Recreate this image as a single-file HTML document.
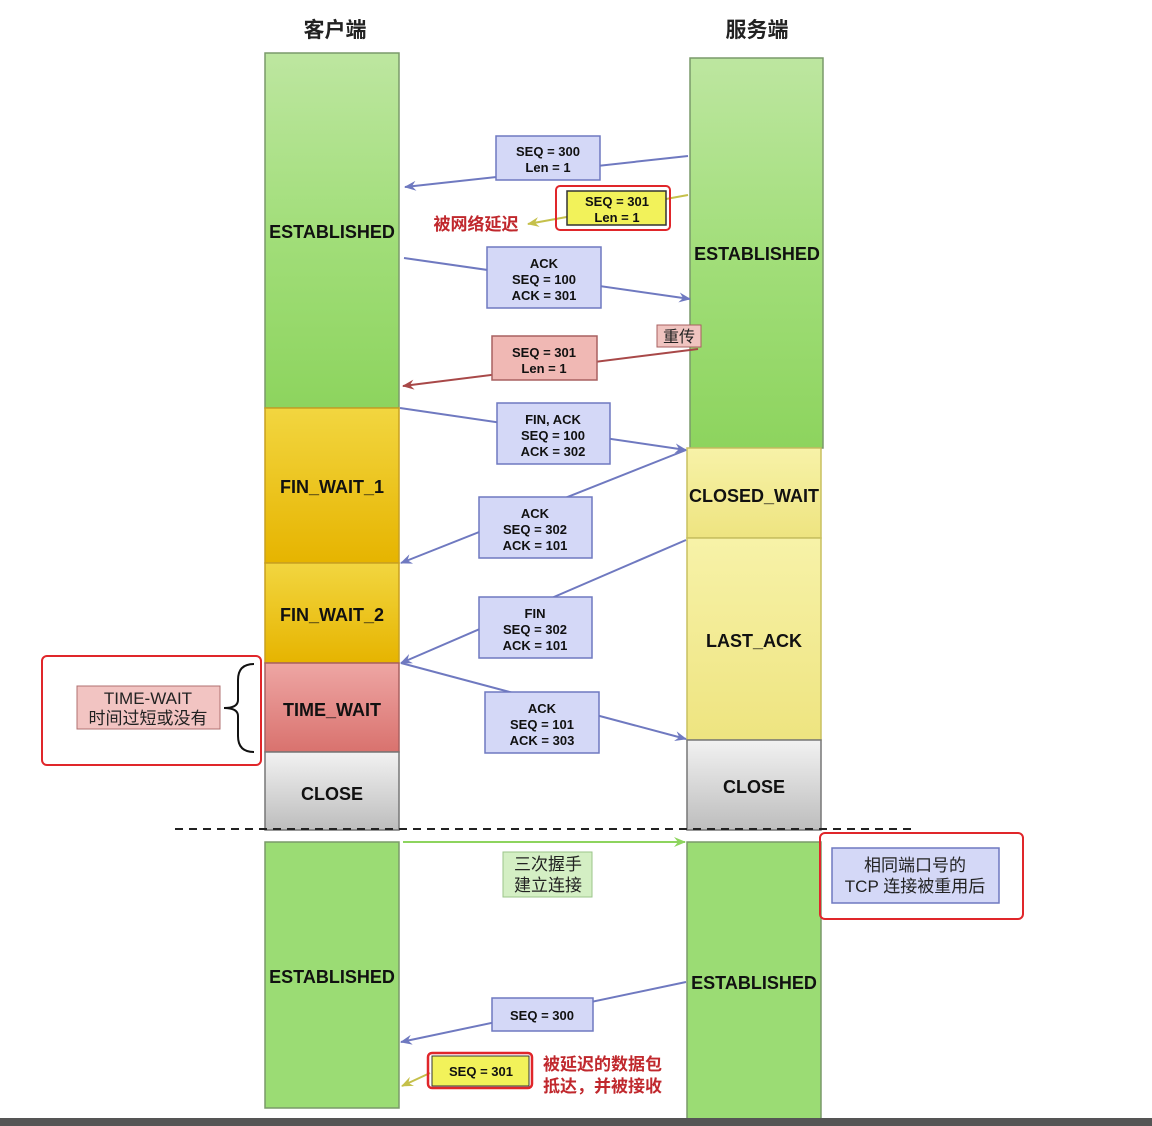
<!DOCTYPE html>
<html><head><meta charset="utf-8"><style>
html,body{margin:0;padding:0;background:#fff;width:1152px;height:1126px;overflow:hidden}
svg{display:block}
.st{font-family:"Liberation Sans","DejaVu Sans",sans-serif;font-weight:bold;font-size:18px;fill:#111}
.m{font-family:"Liberation Sans","DejaVu Sans",sans-serif;font-weight:bold;font-size:13px;fill:#111}
.cn{font-family:"Liberation Sans","Noto Sans CJK SC",sans-serif;font-size:17px;fill:#222}
.red{font-family:"Liberation Sans","Noto Sans CJK SC",sans-serif;font-size:17px;font-weight:bold;fill:#c0282d}
</style></head><body>
<svg width="1152" height="1126" viewBox="0 0 1152 1126" xmlns="http://www.w3.org/2000/svg">
<defs>
<linearGradient id="g" x1="0" y1="0" x2="0" y2="1"><stop offset="0" stop-color="#bde6a0"/><stop offset="0.5" stop-color="#a2de7a"/><stop offset="1" stop-color="#8dd45e"/></linearGradient>
<linearGradient id="o" x1="0" y1="0" x2="0" y2="1"><stop offset="0" stop-color="#f2d640"/><stop offset="1" stop-color="#e6b400"/></linearGradient>
<linearGradient id="r" x1="0" y1="0" x2="0" y2="1"><stop offset="0" stop-color="#eea6a4"/><stop offset="1" stop-color="#d9726e"/></linearGradient>
<linearGradient id="gr" x1="0" y1="0" x2="0" y2="1"><stop offset="0" stop-color="#f2f2f2"/><stop offset="1" stop-color="#bdbdbd"/></linearGradient>
<linearGradient id="y" x1="0" y1="0" x2="0" y2="1"><stop offset="0" stop-color="#f7f2a8"/><stop offset="1" stop-color="#eee480"/></linearGradient>
<marker id="ab" markerWidth="12" markerHeight="10" refX="11" refY="5" orient="auto" markerUnits="userSpaceOnUse"><path d="M0,0 L12,5 L0,10 L4,5 Z" fill="#6f79c0"/></marker>
<marker id="ar" markerWidth="12" markerHeight="10" refX="11" refY="5" orient="auto" markerUnits="userSpaceOnUse"><path d="M0,0 L12,5 L0,10 L4,5 Z" fill="#a84848"/></marker>
<marker id="ay" markerWidth="12" markerHeight="10" refX="11" refY="5" orient="auto" markerUnits="userSpaceOnUse"><path d="M0,0 L12,5 L0,10 L4,5 Z" fill="#c5c04a"/></marker>
<marker id="ag" markerWidth="12" markerHeight="10" refX="11" refY="5" orient="auto" markerUnits="userSpaceOnUse"><path d="M0,0 L12,5 L0,10 L4,5 Z" fill="#8dd45e"/></marker>
</defs>
<text x="335" y="37" class="cn" text-anchor="middle" style="font-size:21px;font-weight:bold">客户端</text>
<text x="757" y="37" class="cn" text-anchor="middle" style="font-size:21px;font-weight:bold">服务端</text>
<g stroke="#7a9a6a" stroke-width="1.5">
<rect x="265" y="53" width="134" height="355" fill="url(#g)"/>
<rect x="265" y="408" width="134" height="155" fill="url(#o)" stroke="#c8a020"/>
<rect x="265" y="563" width="134" height="100" fill="url(#o)" stroke="#c8a020"/>
<rect x="265" y="663" width="134" height="89" fill="url(#r)" stroke="#a86060"/>
<rect x="265" y="752" width="134" height="78" fill="url(#gr)" stroke="#777"/>
<rect x="690" y="58" width="133" height="390" fill="url(#g)"/>
<rect x="687" y="448" width="134" height="90" fill="url(#y)" stroke="#c8c060"/>
<rect x="687" y="538" width="134" height="202" fill="url(#y)" stroke="#c8c060"/>
<rect x="687" y="740" width="134" height="90" fill="url(#gr)" stroke="#777"/>
<rect x="265" y="842" width="134" height="266" fill="#9bdc74"/>
<rect x="687" y="842" width="134" height="280" fill="#9bdc74"/>
</g>
<text x="332" y="238" class="st" text-anchor="middle">ESTABLISHED</text>
<text x="757" y="260" class="st" text-anchor="middle">ESTABLISHED</text>
<text x="332" y="493" class="st" text-anchor="middle">FIN_WAIT_1</text>
<text x="332" y="621" class="st" text-anchor="middle">FIN_WAIT_2</text>
<text x="332" y="716" class="st" text-anchor="middle">TIME_WAIT</text>
<text x="332" y="800" class="st" text-anchor="middle">CLOSE</text>
<text x="754" y="502" class="st" text-anchor="middle">CLOSED_WAIT</text>
<text x="754" y="647" class="st" text-anchor="middle">LAST_ACK</text>
<text x="754" y="793" class="st" text-anchor="middle">CLOSE</text>
<text x="332" y="983" class="st" text-anchor="middle">ESTABLISHED</text>
<text x="754" y="989" class="st" text-anchor="middle">ESTABLISHED</text>
<line x1="175" y1="829" x2="915" y2="829" stroke="#222" stroke-width="2" stroke-dasharray="8,6"/>
<g stroke="#6f79c0" stroke-width="2" fill="none">
<line x1="688" y1="156" x2="405" y2="187" marker-end="url(#ab)"/>
<line x1="404" y1="258" x2="690" y2="299" marker-end="url(#ab)"/>
<line x1="400" y1="408" x2="686" y2="450" marker-end="url(#ab)"/>
<line x1="686" y1="450" x2="401" y2="563" marker-end="url(#ab)"/>
<line x1="686" y1="540" x2="401" y2="663" marker-end="url(#ab)"/>
<line x1="401" y1="663" x2="686" y2="739" marker-end="url(#ab)"/>
<line x1="686" y1="982" x2="401" y2="1042" marker-end="url(#ab)"/>
</g>
<line x1="698" y1="349" x2="403" y2="386" stroke="#a84848" stroke-width="2" marker-end="url(#ar)"/>
<line x1="688" y1="195" x2="528" y2="224" stroke="#c5c04a" stroke-width="2" marker-end="url(#ay)"/>
<line x1="430" y1="1073" x2="402" y2="1086" stroke="#c5c04a" stroke-width="2" marker-end="url(#ay)"/>
<line x1="403" y1="842" x2="685" y2="842" stroke="#8dd45e" stroke-width="2" marker-end="url(#ag)"/>
<g stroke="#6f79c0" stroke-width="1.5" fill="#d4d8f7">
<rect x="496" y="136" width="104" height="44"/>
<rect x="487" y="247" width="114" height="61"/>
<rect x="497" y="403" width="113" height="61"/>
<rect x="479" y="497" width="113" height="61"/>
<rect x="479" y="597" width="113" height="61"/>
<rect x="485" y="692" width="114" height="61"/>
<rect x="492" y="998" width="101" height="33"/>
</g>
<rect x="492" y="336" width="105" height="44" fill="#f0b8b4" stroke="#a86060" stroke-width="1.5"/>
<rect x="657" y="325" width="44" height="22" fill="#f0c4c0" stroke="#a86060"/>
<text x="679" y="342" class="cn" text-anchor="middle" style="font-size:16px">重传</text>
<rect x="567" y="191" width="99" height="34" fill="#f2f25a" stroke="#333" stroke-width="1.5"/>
<rect x="556" y="186" width="114" height="44" rx="4" fill="none" stroke="#e0262a" stroke-width="2"/>
<text x="476" y="230" class="red" text-anchor="middle">被网络延迟</text>
<rect x="432" y="1056" width="97" height="30" fill="#f2f25a" stroke="#333"/>
<rect x="428" y="1053" width="104" height="35" rx="4" fill="none" stroke="#e0262a" stroke-width="2.5"/>
<text x="481" y="1076" class="m" text-anchor="middle">SEQ = 301</text>
<text x="543" y="1070" class="red">被延迟的数据包</text>
<text x="543" y="1092" class="red">抵达，并被接收</text>
<g class="m" text-anchor="middle">
<text x="548" y="156">SEQ = 300</text><text x="548" y="172">Len = 1</text>
<text x="617" y="206">SEQ = 301</text><text x="617" y="222">Len = 1</text>
<text x="544" y="268">ACK</text><text x="544" y="284">SEQ = 100</text><text x="544" y="300">ACK = 301</text>
<text x="544" y="357">SEQ = 301</text><text x="544" y="373">Len = 1</text>
<text x="553" y="424">FIN, ACK</text><text x="553" y="440">SEQ = 100</text><text x="553" y="456">ACK = 302</text>
<text x="535" y="518">ACK</text><text x="535" y="534">SEQ = 302</text><text x="535" y="550">ACK = 101</text>
<text x="535" y="618">FIN</text><text x="535" y="634">SEQ = 302</text><text x="535" y="650">ACK = 101</text>
<text x="542" y="713">ACK</text><text x="542" y="729">SEQ = 101</text><text x="542" y="745">ACK = 303</text>
<text x="542" y="1020">SEQ = 300</text>
</g>
<rect x="503" y="852" width="89" height="45" fill="#d4efc4" stroke="#9bc58a"/>
<text x="548" y="870" class="cn" text-anchor="middle">三次握手</text>
<text x="548" y="891" class="cn" text-anchor="middle">建立连接</text>
<rect x="42" y="656" width="219" height="109" rx="5" fill="none" stroke="#e0262a" stroke-width="2"/>
<rect x="77" y="686" width="143" height="43" fill="#f2c4c2" stroke="#b07070"/>
<text x="148" y="704" class="cn" text-anchor="middle">TIME-WAIT</text>
<text x="148" y="724" class="cn" text-anchor="middle">时间过短或没有</text>
<path d="M254,664 Q238,664 238,680 L238,700 Q238,708 224,708 Q238,708 238,716 L238,736 Q238,752 254,752" fill="none" stroke="#111" stroke-width="2"/>
<rect x="820" y="833" width="203" height="86" rx="5" fill="none" stroke="#e0262a" stroke-width="2"/>
<rect x="832" y="848" width="167" height="55" fill="#d4d8f7" stroke="#6f79c0" stroke-width="1.5"/>
<text x="915" y="871" class="cn" text-anchor="middle">相同端口号的</text>
<text x="915" y="892" class="cn" text-anchor="middle">TCP 连接被重用后</text>
<rect x="0" y="1118" width="1152" height="8" fill="#555"/>
</svg>
</body></html>
